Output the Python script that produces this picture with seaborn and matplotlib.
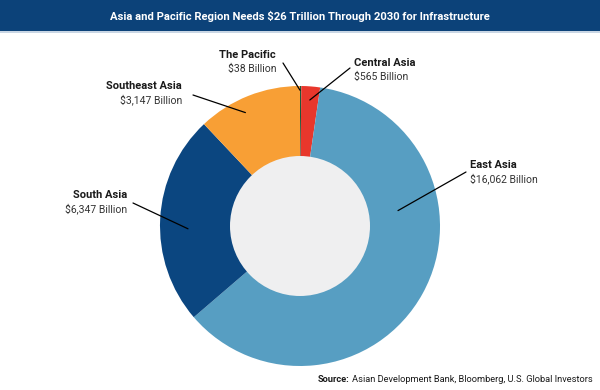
import matplotlib
matplotlib.use("Agg")
import matplotlib.pyplot as plt
import seaborn as sns
from matplotlib.patches import Circle, Rectangle

regions = ["The Pacific", "Central Asia", "East Asia", "South Asia", "Southeast Asia"]
needs_bn = [38, 565, 16062, 6347, 3147]
value_labels = ["$38 Billion", "$565 Billion", "$16,062 Billion", "$6,347 Billion", "$3,147 Billion"]
colors = ["#1d5a3a", "#e8372c", "#579ec2", "#0b4680", "#f89f35"]

sns.set_theme(style="white")
plt.rcParams["font.family"] = ["Roboto", "DejaVu Sans"]

fig = plt.figure(figsize=(6, 3.9), dpi=100)
fig.patch.set_facecolor("white")

# title bar
fig.patches.append(Rectangle((0, 1 - 31 / 390), 1, 31 / 390, transform=fig.transFigure,
                             facecolor="#0c4279", edgecolor="none", zorder=0))
fig.patches.append(Rectangle((0, 1 - 33 / 390), 1, 2 / 390, transform=fig.transFigure,
                             facecolor="#c9d6e4", edgecolor="none", zorder=0))
fig.text(0.5, 1 - 16 / 390, "Asia and Pacific Region Needs $26 Trillion Through 2030 for Infrastructure",
         ha="center", va="center", color="white", fontsize=8.1, fontweight="bold")

ax = fig.add_axes([160 / 600, 24 / 390, 280 / 600, 280 / 390])
wedges, _ = ax.pie(needs_bn, colors=colors, startangle=90, counterclock=False,
                   radius=1, wedgeprops=dict(linewidth=0))
ax.add_patch(Circle((0, 0), 0.5, facecolor="#efeff0", edgecolor="none", zorder=3))
ax.set_xlim(-1, 1)
ax.set_ylim(-1, 1)
ax.set_aspect("equal")
ax.axis("off")

# label text anchor (px), alignment, pointer end (data coords), line start (px)
label_pos = {
    "The Pacific": ((276, 55), "right", (0.0, 0.97), (283, 63)),
    "Central Asia": ((354, 63), "left", (0.07, 0.90), (350, 68)),
    "East Asia": ((470, 165), "left", (0.70, 0.11), (466, 172)),
    "South Asia": ((127, 195), "right", (-0.80, -0.02), (133, 203)),
    "Southeast Asia": ((182, 86), "right", (-0.39, 0.81), (193, 95)),
}

for name, val in zip(regions, value_labels):
    (tx, ty), ha, (px, py), (lx, ly) = label_pos[name]
    fig.text(tx / 600, 1 - ty / 390, name, ha=ha, va="center", fontsize=8,
             fontweight="bold", color="#1a1a1a")
    fig.text(tx / 600, 1 - (ty + 14) / 390, val, ha=ha, va="center", fontsize=7.5,
             color="#333333")
    ax.annotate("", xy=(px, py), xycoords="data",
                xytext=(lx / 600, 1 - ly / 390), textcoords="figure fraction",
                arrowprops=dict(arrowstyle="-", color="black", lw=0.9,
                                shrinkA=0, shrinkB=0), zorder=5)

main = fig.text(593 / 600, 1 - 380 / 390, "Asian Development Bank, Bloomberg, U.S. Global Investors",
                ha="right", va="center", fontsize=6.7, color="#1a1a1a")
fig.canvas.draw()
bb = main.get_window_extent(renderer=fig.canvas.get_renderer())
fig.text(bb.x0 / fig.bbox.width - 0.004, 1 - 380 / 390, "Source:", ha="right", va="center",
         fontsize=6.7, fontweight="bold", color="#1a1a1a")

fig.savefig("out.png", dpi=100)
